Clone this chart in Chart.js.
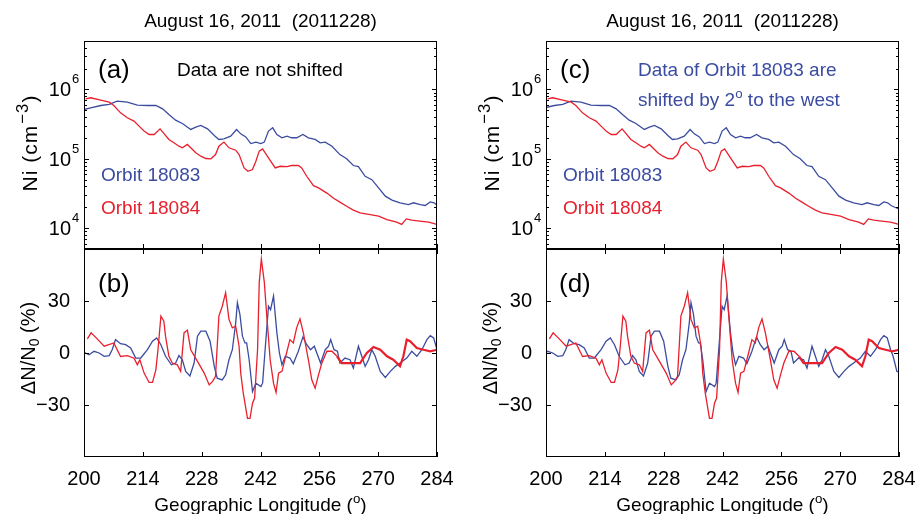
<!DOCTYPE html>
<html>
<head>
<meta charset="utf-8">
<script src="https://cdn.jsdelivr.net/npm/chart.js@4.4.1/dist/chart.umd.min.js"></script>
<style>
  html, body { margin: 0; padding: 0; background: #fff; }
  #wrap { position: relative; width: 924px; height: 514px; overflow: hidden;
          font-family: 'Liberation Sans', Arial, Helvetica, sans-serif; color: #000; }
  canvas { position: absolute; top: 0; }
  .t { position: absolute; white-space: nowrap; line-height: 1; font-size: 19px; }
  .t sup { font-size: 0.7em; position: relative; top: -0.55em; vertical-align: baseline; line-height: 0; }
  .t sub { font-size: 0.7em; position: relative; top: 0.3em; vertical-align: baseline; line-height: 0; }
  .big { font-size: 26px; }
  .blue { color: #3b4ca0; }
  .red { color: #e8202d; }
  .rot { transform: translate(-50%, -50%) rotate(-90deg); font-size: 20px; }
  .ni { font-size: 21px; letter-spacing: 1px; }
  .ni sup { font-size: 0.8em; margin-left: 1px; }
  .ctr { transform: translateX(-50%); }
</style>
</head>
<body>
<div id="wrap">
  <canvas id="left" width="460" height="514" style="left:0"></canvas>
  <canvas id="right" width="464" height="514" style="left:460px"></canvas>

  <div class="t ctr" style="left:260.5px; top:10.6px">August 16, 2011&nbsp;&nbsp;(2011228)</div>
  <div class="t ctr" style="left:722.5px; top:10.6px">August 16, 2011&nbsp;&nbsp;(2011228)</div>

  <div class="t big" style="left:98px; top:56px">(a)</div>
  <div class="t" style="left:177px; top:60.4px">Data are not shifted</div>
  <div class="t blue" style="left:101px; top:165px">Orbit 18083</div>
  <div class="t red" style="left:101px; top:198px">Orbit 18084</div>
  <div class="t big" style="left:98px; top:270px">(b)</div>

  <div class="t big" style="left:560px; top:56px">(c)</div>
  <div class="t blue" style="left:638px; top:60.4px">Data of Orbit 18083 are</div>
  <div class="t blue" style="left:638px; top:89.5px">shifted by 2<sup>o</sup> to the west</div>
  <div class="t blue" style="left:563px; top:165px">Orbit 18083</div>
  <div class="t red" style="left:563px; top:198px">Orbit 18084</div>
  <div class="t big" style="left:559px; top:270px">(d)</div>

  <div class="t rot ni" style="left:29px; top:143px">Ni (cm<sup>&minus;3</sup>)</div>
  <div class="t rot" style="left:28px; top:348px">&Delta;N/N<sub>0</sub> (%)</div>
  <div class="t rot ni" style="left:491px; top:143px">Ni (cm<sup>&minus;3</sup>)</div>
  <div class="t rot" style="left:490px; top:348px">&Delta;N/N<sub>0</sub> (%)</div>

  <div class="t ctr" style="left:260.5px; top:494.6px">Geographic Longitude (<sup>o</sup>)</div>
  <div class="t ctr" style="left:722.5px; top:494.6px">Geographic Longitude (<sup>o</sup>)</div>
</div>

<script>
// ion density Ni (cm^-3), orbit 18084 (red) and 18083 (blue)
const RED_NI_LON = [200.4, 201.6, 204, 206, 207.1, 208.7, 210.3, 211.9, 213.1, 214.3, 215.5, 216.7, 218.1, 219,
  220.2, 221.4, 222.6, 223.4, 224.6, 225.4, 226.6, 227.8, 229, 230.2, 231.3, 232.1, 233.3, 234.5, 236.1, 236.9,
  238.1, 239, 240.1, 240.9, 241.7, 242.5, 243.9, 245.5, 246.7, 248.3, 249.4, 251, 251.8, 253, 254.6, 255.8,
  257.8, 259.4, 260.9, 262.5, 264.1, 265.7, 268.1, 270.1, 272.1, 274.4, 275.6, 276.7, 278, 279.9, 282, 284];
const RED_NI = [733000, 759000, 701000, 656000, 587000, 460000, 390000, 349000, 296000, 251000, 224000, 224000,
  270000, 232000, 190000, 170000, 152000, 144000, 161000, 144000, 122000, 109000, 101000, 100000, 115000, 152000,
  174000, 144000, 133000, 115000, 74000, 66000, 70000, 92000, 129000, 139000, 103000, 74000, 78000, 77000, 80000,
  80000, 74000, 56000, 41000, 38000, 32000, 27000, 23700, 20700, 18200, 16600, 15700, 14900, 13300, 12200, 11300,
  13600, 13000, 12600, 12200, 11300];

const BLUE_NI_LON = [200, 201.6, 204, 206, 207.9, 210.3, 212.7, 215.1, 217.1, 218.7, 220.2, 221.8, 223.4, 225.4,
  226.6, 227.8, 229.4, 231, 232.1, 233.3, 234.9, 236.3, 237.3, 238.5, 239.7, 240.9, 242.1, 242.9, 243.9, 244.9,
  245.9, 247.1, 248.3, 249.4, 250.6, 252.1, 253.4, 255, 256.2, 257.4, 259, 260.9, 262.5, 264.1, 265.3, 266.9,
  268.5, 270.1, 271.7, 273.3, 275.2, 277.2, 278.4, 280, 281.2, 282.4, 283.3, 284.1, 285, 286];
const BLUE_NI = [514000, 543000, 587000, 608000, 679000, 656000, 594000, 587000, 587000, 526000, 436000, 361000,
  323000, 265000, 286000, 303000, 270000, 217000, 190000, 194000, 212000, 265000, 229000, 207000, 166000, 174000,
  166000, 174000, 251000, 280000, 224000, 201000, 212000, 201000, 201000, 224000, 201000, 190000, 170000, 174000,
  152000, 115000, 100000, 80000, 77000, 56000, 50000, 38000, 28900, 25300, 23200, 21900, 23200, 21900, 21200,
  23900, 23200, 21200, 20000, 19000];

// density perturbation dN/N0 (%)
const RED_DN_LON = [200.8, 201.7, 203.2, 204.8, 207.1, 208.7, 210.3, 211.9, 212.7, 213.3, 214.3, 215.5, 216.3,
  217.1, 217.6, 218.3, 219, 219.4, 220.2, 221, 222.2, 223, 223.8, 224.6, 225.4, 227, 228.6, 229.8, 230.6, 231.3,
  232.1, 232.9, 233.7, 234.5, 235.3, 236.1, 236.9, 237.3, 237.9, 238.9, 239.5, 240.1, 240.6, 241.3, 241.7, 242.2,
  242.9, 243.5, 244.3, 245.1, 245.7, 246.3, 247.1, 248.2, 249, 249.8, 250.6, 251.4, 252.2, 253.4, 254.2, 255,
  255.8, 256.6, 257.8, 259, 260.2, 261.3, 263.3, 265.7, 267.3, 268.9, 270.5, 272.1, 273.6, 275.2, 276, 276.8,
  277.6, 279.2, 280.8, 282.4, 284];
const RED_DN = [8.1, 11.6, 8, 3.9, 5.8, -2, -1.5, -3, -6.8, -3.9, -11.6, -17, -17, -9.7, 1.9, 21.3, 18.4, 9.7,
  -1.9, -5.8, -6.8, -10.6, 11.6, 13.2, 1.9, -4.8, -11.6, -18.4, -16.4, -13.5, 21.3, 27, 34.8, 19.4, 14.5, 15.5,
  3.9, -11.6, -23.2, -37.7, -37.7, -29, -26, 1.9, 40.6, 54.2, 41, 21.3, -3.9, -17.4, -22.8, -11.6, -10.6, 0, 7.7,
  5.8, 14.5, 19.7, 11.6, -3.9, -15.5, -20.3, -12.6, -5.8, 1, 1, -1.9, -5.8, -5.8, -5.8, 0, 3.5, 1.9, -1.9, -3.9,
  -7.7, -1.9, 7.7, 6.8, 2.9, 1.9, 1, 1.9];

const BLUE_DN_LON = [200, 201.2, 202.4, 203.6, 204.8, 206, 206.7, 207.5, 208.7, 209.9, 211.1, 212.3, 213.5, 215.1,
  216.3, 217.3, 218.3, 219.4, 220.8, 221.8, 222.6, 223.4, 224.2, 225.2, 226.2, 227, 227.8, 229, 230, 231, 231.7,
  232.9, 233.7, 234.5, 235.3, 236.1, 236.5, 237.1, 237.7, 238.3, 238.7, 239.3, 240.1, 240.9, 242.1, 242.5, 243.1,
  243.9, 244.4, 245.1, 245.9, 246.5, 247.1, 247.9, 249, 249.8, 251, 252.1, 253, 253.9, 254.8, 255.4, 256.3, 257.4,
  258.2, 258.7, 259.5, 260.3, 260.9, 262.1, 263.3, 264.1, 265.3, 266.1, 266.9, 267.7, 268.5, 269.3, 270.5, 271.7,
  272.9, 274.1, 275.2, 276.8, 278, 279.2, 280.4, 281.6, 282.4, 283.2, 284, 284.6, 285.5, 286.3];
const BLUE_DN = [0.4, -1, 1, 0, -1.9, -1.5, 1.9, 7.7, 5.4, 4.8, 2.9, -2.9, -2.9, 1.9, 6.8, 8.7, 4.8, -1.9, -6.8,
  -5.8, -1.5, -3.9, -10.6, -13.2, -5.8, 9.7, 12.6, 12.6, 6.8, -7.7, -14.5, -15.5, -12.6, -3.9, 1.9, 17.4, 29, 22.3,
  9.7, 5.8, 5.8, -3.9, -22.3, -17.4, -19.4, -17.4, 1.9, 27, 25, 32.9, 11.6, 0, -6.8, -1.9, -2.9, -6.2, 1, 9.3, 4.8,
  1.9, 3.9, 0, -5.8, 1.9, 3.9, 7.7, 1.9, 1, -5.8, -2.9, -3.9, -8.7, 3.9, -1.9, -7.7, -3.9, 1.9, -1.9, -10.6, -14.1,
  -10.6, -7.7, -5.8, -2.9, 1, -1.9, 1.9, 7.7, 10, 8.7, 1.9, -1.9, -10.6, -11];

// axes
const LON_MIN = 200, LON_MAX = 284, LON_STEP = 14;
const NI_MIN = 5000, NI_MAX = 5e6, NI_LABEL_EXP = [4, 5, 6];
const DN_MIN = -60, DN_MAX = 60, DN_STEP = 30, DN_LABELS = [-30, 0, 30];
const SHIFT_WEST = 2; // orbit 18083 shifted by 2 deg in panels (c), (d)

const FONT = "'Liberation Sans', Arial, Helvetica, sans-serif";
const BLUE = '#3b4ca0', RED = '#e8202d';
const TICK = 5, TICK_MINOR = 3;

function pts(xs, ys, shift) {
  return xs.map((x, i) => ({ x: x - shift, y: ys[i] }));
}

function seg(ctx, x1, y1, x2, y2) {
  ctx.beginPath(); ctx.moveTo(x1, y1); ctx.lineTo(x2, y2); ctx.stroke();
}

// matlab style box, inward ticks, 10^n labels
const panelFrame = {
  id: 'panelFrame',
  afterDraw(chart) {
    const { ctx, chartArea: a } = chart;
    const { x, yTop, yBot } = chart.scales;
    const L = Math.round(a.left), R = Math.round(a.right);
    ctx.save();
    ctx.strokeStyle = '#000';
    ctx.lineWidth = 1;
    [yTop, yBot].forEach(s => {
      ctx.strokeRect(L + 0.5, Math.round(s.top) + 0.5, R - L - 1, Math.round(s.bottom) - Math.round(s.top) - 1);
    });
    x.ticks.forEach(t => {
      const px = Math.round(x.getPixelForValue(t.value)) + 0.5;
      seg(ctx, px, yTop.bottom, px, yTop.bottom - TICK);
      seg(ctx, px, yBot.top, px, yBot.top + TICK);
      seg(ctx, px, yBot.bottom, px, yBot.bottom - TICK);
    });
    for (let e = 3; e <= 6; e++) {
      for (let k = 1; k <= 9; k++) {
        const v = k * Math.pow(10, e);
        if (v < yTop.min || v > yTop.max) continue;
        const py = Math.round(yTop.getPixelForValue(v)) + 0.5;
        const len = k === 1 ? TICK : TICK_MINOR;
        seg(ctx, L, py, L + len, py);
        seg(ctx, R, py, R - len, py);
      }
    }
    DN_LABELS.forEach(v => {
      const py = Math.round(yBot.getPixelForValue(v)) + 0.5;
      seg(ctx, L, py, L + TICK, py);
      seg(ctx, R, py, R - TICK, py);
    });
    ctx.fillStyle = '#000';
    ctx.textBaseline = 'alphabetic';
    NI_LABEL_EXP.forEach(e => {
      const py = yTop.getPixelForValue(Math.pow(10, e));
      ctx.font = '20px ' + FONT;
      ctx.textAlign = 'right';
      ctx.fillText('10', L - 13, py + 7);
      ctx.font = '13px ' + FONT;
      ctx.textAlign = 'left';
      ctx.fillText(String(e), L - 12, py - 6);
    });
    ctx.restore();
  }
};

function makeColumn(id, shift, axisWidth, padRight) {
  const noLines = { display: false };
  return new Chart(document.getElementById(id), {
    type: 'line',
    data: {
      datasets: [
        { data: pts(RED_NI_LON, RED_NI, 0), yAxisID: 'yTop', borderColor: RED },
        { data: pts(BLUE_NI_LON, BLUE_NI, shift), yAxisID: 'yTop', borderColor: BLUE },
        { data: pts(RED_DN_LON, RED_DN, 0), yAxisID: 'yBot', borderColor: RED,
          segment: { borderWidth: c => (c.p0.parsed.x >= 260 ? 2.2 : 1.3) } },
        { data: pts(BLUE_DN_LON, BLUE_DN, shift), yAxisID: 'yBot', borderColor: BLUE }
      ]
    },
    options: {
      responsive: false,
      animation: false,
      events: [],
      layout: { padding: { top: 41, right: padRight, bottom: 0, left: 0 } },
      elements: { point: { radius: 0 }, line: { borderWidth: 1.3, tension: 0 } },
      plugins: { legend: { display: false }, tooltip: { enabled: false } },
      scales: {
        x: {
          type: 'linear', min: LON_MIN, max: LON_MAX,
          grid: noLines, border: noLines,
          ticks: { stepSize: LON_STEP, color: '#000', padding: 2, maxRotation: 0,
                   font: { family: FONT, size: 20 } },
          afterFit: s => { s.height = 57; }
        },
        // stacked axes: the one listed last sits on top
        yBot: {
          type: 'linear', position: 'left', stack: 'col', stackWeight: 1,
          min: DN_MIN, max: DN_MAX,
          grid: noLines, border: noLines,
          ticks: { stepSize: DN_STEP, color: '#000', padding: 6,
                   font: { family: FONT, size: 20 },
                   callback: v => (DN_LABELS.includes(v) ? String(v).replace('-', '\u2212') : '') },
          afterFit: s => { s.width = axisWidth; }
        },
        yTop: {
          type: 'logarithmic', position: 'left', stack: 'col', stackWeight: 1,
          min: NI_MIN, max: NI_MAX,
          grid: noLines, border: noLines,
          ticks: { display: false },
          afterFit: s => { s.width = axisWidth; }
        }
      }
    },
    plugins: [panelFrame]
  });
}

makeColumn('left', 0, 84, 23);
makeColumn('right', SHIFT_WEST, 86, 25);
</script>
</body>
</html>
